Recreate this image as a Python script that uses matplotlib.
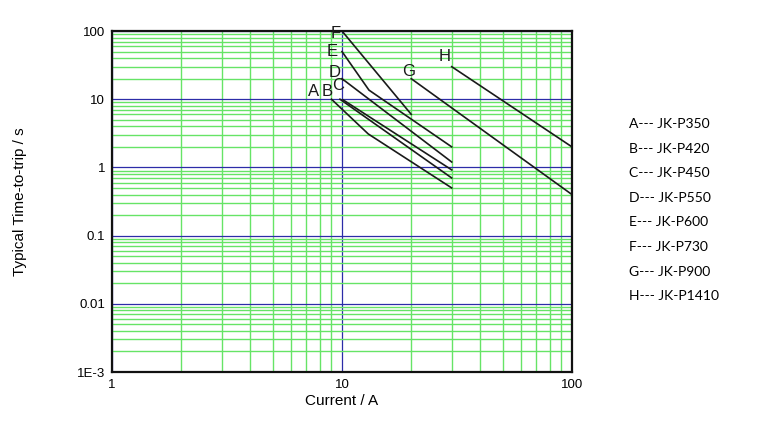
import matplotlib
matplotlib.use('Agg')
import matplotlib.pyplot as plt
from matplotlib.ticker import FixedLocator, FixedFormatter, LogLocator, NullFormatter

# curve data (current in A, time-to-trip in s)
labels = ['A', 'B', 'C', 'D', 'E', 'F', 'G', 'H']
parts = ['JK-P350', 'JK-P420', 'JK-P450', 'JK-P550', 'JK-P600', 'JK-P730', 'JK-P900', 'JK-P1410']
curr_A = [9, 13, 30]
time_A = [10, 3.1, 0.5]
curr_B = [9.8, 30]
time_B = [10, 0.7]
curr_C = [10.1, 30]
time_C = [9.8, 0.92]
curr_D = [10, 30]
time_D = [20, 1.2]
curr_E = [10, 13.1, 30]
time_E = [50, 13.6, 2.0]
curr_F = [10, 20]
time_F = [100, 6.0]
curr_G = [20, 100]
time_G = [20, 0.4]
curr_H = [30, 100]
time_H = [30, 2.0]

# label positions for the curve letters
label_x = [7.55, 8.6, 9.6, 9.26, 9.07, 9.39, 19.4, 28.0]
label_y = [12.9, 12.9, 15.8, 24.5, 49.7, 92.5, 25.3, 42.0]

curves = [(curr_A, time_A), (curr_B, time_B), (curr_C, time_C), (curr_D, time_D),
          (curr_E, time_E), (curr_F, time_F), (curr_G, time_G), (curr_H, time_H)]

plt.rcParams['font.family'] = ['Liberation Sans', 'DejaVu Sans']

fig = plt.figure(figsize=(7.61, 4.25), dpi=100)
ax = fig.add_axes([0.1472, 0.1247, 0.6044, 0.8023])

ax.set_xscale('log')
ax.set_yscale('log')
ax.set_xlim(1, 100)
ax.set_ylim(1e-3, 100)

# grid: green minors, blue majors
ax.xaxis.set_minor_locator(LogLocator(base=10, subs=range(2, 10)))
ax.yaxis.set_minor_locator(LogLocator(base=10, subs=range(2, 10)))
ax.xaxis.set_minor_formatter(NullFormatter())
ax.yaxis.set_minor_formatter(NullFormatter())
ax.grid(which='minor', color='#66e466', linewidth=1.0)
ax.grid(which='major', color='#2c2ca8', linewidth=0.9)
ax.set_axisbelow(True)

ax.yaxis.set_major_locator(FixedLocator([1e-3, 1e-2, 0.1, 1, 10, 100]))
ax.yaxis.set_major_formatter(FixedFormatter(['1E-3', '0.01', '0.1', '1', '10', '100']))
ax.xaxis.set_major_locator(FixedLocator([1, 10, 100]))
ax.xaxis.set_major_formatter(FixedFormatter(['1', '10', '100']))
ax.tick_params(which='both', length=0, labelsize=9.5, pad=5)

for s in ax.spines.values():
    s.set_linewidth(1.6)
    s.set_color('#111111')

for (x, y) in curves:
    ax.plot(x, y, color='#1a1a1a', linewidth=1.2)

for lab, lx, ly in zip(labels, label_x, label_y):
    ax.text(lx, ly, lab, ha='center', va='center', fontsize=12, color='#1a1a1a')

ax.set_xlabel('Current / A', fontsize=11, labelpad=2)
ax.set_ylabel('Typical Time-to-trip / s', fontsize=11, labelpad=36)

# legend text on the right
for i, (lab, p) in enumerate(zip(labels, parts)):
    fig.text(0.826, 1 - (124 + i * 24.6) / 425, lab + '--- ' + p,
             ha='left', va='center', fontsize=10, family=['Lato', 'DejaVu Sans'])

fig.savefig('out.png', dpi=100)
